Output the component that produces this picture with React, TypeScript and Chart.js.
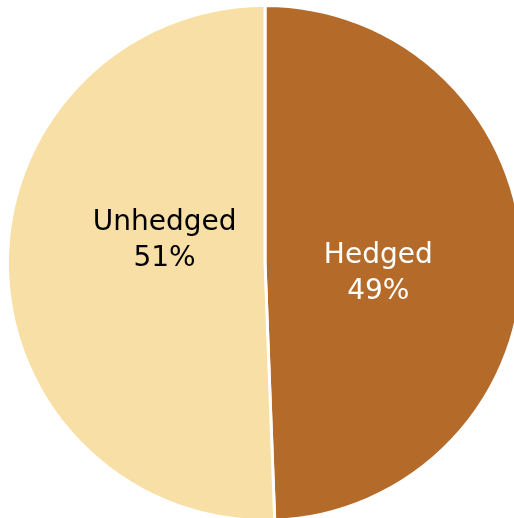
import React, { useEffect, useRef } from "react";
import { Chart, registerables } from "chart.js";

Chart.register(...registerables);

const categories = ["Hedged", "Unhedged"];
const values = [49.4, 50.6];
const percentLabels = ["49%", "51%"];
const colors = ["#B46B2A", "#F7DFA5"];
const labelColors = ["#FFFFFF", "#000000"];

export default function App() {
  const ref = useRef<HTMLCanvasElement | null>(null);

  useEffect(() => {
    if (!ref.current) return;
    const labelPlugin = {
      id: "pieLabels",
      afterDatasetsDraw(chart: any) {
        const ctx = chart.ctx;
        const meta = chart.getDatasetMeta(0);
        meta.data.forEach((arc: any, i: number) => {
          const r = arc.outerRadius;
          const mid = (arc.startAngle + arc.endAngle) / 2;
          const dist = i === 0 ? 0.44 : 0.39;
          const yShift = i === 0 ? 0.05 : -0.093;
          const x = arc.x + Math.cos(mid) * r * dist;
          const y = arc.y + Math.sin(mid) * r * dist + yShift * r;
          ctx.save();
          ctx.fillStyle = labelColors[i];
          ctx.font = "28px 'DejaVu Sans', Verdana, sans-serif";
          ctx.textAlign = "center";
          ctx.textBaseline = "middle";
          ctx.fillText(categories[i], x, y - 18);
          ctx.fillText(percentLabels[i], x, y + 18);
          ctx.restore();
        });
      },
    };
    const chart = new Chart(ref.current, {
      type: "pie",
      data: {
        labels: categories,
        datasets: [
          {
            data: values,
            backgroundColor: colors,
            borderColor: "#FFFFFF",
            borderWidth: 3,
          },
        ],
      },
      options: {
        responsive: false,
        animation: false,
        rotation: 0,
        layout: { padding: 0 },
        plugins: {
          legend: { display: false },
          tooltip: { enabled: false },
        },
      },
      plugins: [labelPlugin],
    });
    return () => chart.destroy();
  }, []);

  return (
    <div
      style={{
        position: "fixed",
        left: 0,
        top: 0,
        width: 514,
        height: 518,
        overflow: "hidden",
        background: "#FFFFFF",
      }}
    >
      <canvas
        ref={ref}
        width={518}
        height={518}
        style={{ position: "absolute", left: 6, top: 4, width: 518, height: 518 }}
      />
    </div>
  );
}
